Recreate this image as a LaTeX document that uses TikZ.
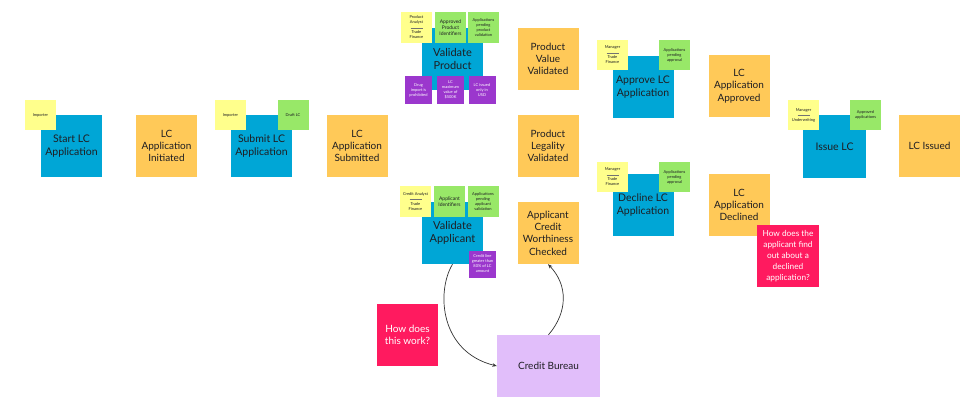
\documentclass[tikz,border=0pt]{standalone}
\usepackage{fontspec}
\setmainfont{Lato}
\usetikzlibrary{arrows.meta}
\definecolor{cblue}{RGB}{0,166,214}
\definecolor{corange}{RGB}{255,201,88}
\definecolor{cyellow}{RGB}{255,255,140}
\definecolor{cgreen}{RGB}{152,232,104}
\definecolor{cpurple}{RGB}{155,55,205}
\definecolor{cpink}{RGB}{255,26,95}
\definecolor{clav}{RGB}{225,190,250}
\definecolor{ctext}{RGB}{30,30,35}
\definecolor{cline}{RGB}{50,50,50}
\newcommand{\sepline}{{\color{black!55}\rule[1pt]{12pt}{0.2pt}}}
\tikzset{
  card/.style={inner sep=0pt, minimum width=61pt, minimum height=62pt, align=center, text=ctext},
  taskbox/.style={card, fill=cblue, font=\fontsize{10.5}{12.5}\selectfont},
  eventbox/.style={card, fill=corange, font=\fontsize{10}{12.3}\selectfont},
  qbox/.style={card, fill=cpink, text=white},
  note/.style={inner sep=0pt, minimum width=31pt, minimum height=30pt, align=center, text=ctext, font=\fontsize{4}{5}\selectfont},
  ynote/.style={note, fill=cyellow},
  gnote/.style={note, fill=cgreen},
  pnote/.style={note, fill=cpurple, text=white, minimum width=27pt, minimum height=28pt},
  flow/.style={draw=cline, line width=0.7pt, -{Stealth[length=4.5pt,width=3.5pt]}}
}
\begin{document}
\begin{tikzpicture}[x=1pt,y=-1pt]
\useasboundingbox (0,0) rectangle (980,401);
% task boxes
\node[taskbox] (start) at (71.5,146) {Start LC\\Application};
\node[taskbox] (submit) at (261.5,146) {Submit LC\\Application};
\node[taskbox, font=\fontsize{11}{13}\selectfont] (vprod) at (452.5,59) {Validate\\Product};
\node[taskbox, font=\fontsize{11}{13}\selectfont] (vapp) at (452.5,233) {Validate\\Applicant};
\node[taskbox] (approve) at (643,87) {Approve LC\\Application};
\node[taskbox] (decline) at (643,205) {Decline LC\\Application};
\node[taskbox, minimum width=63pt] (issue) at (834.5,146.5) {Issue LC};
% event boxes
\node[eventbox] (initiated) at (166.5,146) {LC\\Application\\Initiated};
\node[eventbox] (submitted) at (357,146) {LC\\Application\\Submitted};
\node[eventbox] (pvv) at (548,59) {Product\\Value\\Validated};
\node[eventbox] (plv) at (548,146) {Product\\Legality\\Validated};
\node[eventbox] (acw) at (548,233) {Applicant\\Credit\\Worthiness\\Checked};
\node[eventbox] (approved) at (739,86) {LC\\Application\\Approved};
\node[eventbox] (declined) at (739,205) {LC\\Application\\Declined};
\node[eventbox] (issued) at (929.5,146) {LC Issued};
% notes
\node[ynote] (imp1) at (40.5,115) {Importer};
\node[ynote] (imp2) at (230.5,115) {Importer};
\node[gnote] (draft) at (293,115) {Draft LC};
\node[ynote, minimum height=31pt] (pa) at (416.5,27.5) {Product\\Analyst\\\sepline\\Trade\\Finance};
\node[gnote, minimum height=31pt, font=\fontsize{5}{6}\selectfont] (api) at (450.5,27.5) {Approved\\Product\\Identifiers};
\node[gnote, minimum height=31pt] (appv) at (483.5,27.5) {Applications\\pending\\product\\validation};
\node[pnote] (drug) at (418.5,90) {Drug\\import is\\prohibited};
\node[pnote] (maxv) at (450.5,90) {LC\\maximum\\value of\\\$500K};
\node[pnote] (usd) at (482,90) {LC issued\\only in\\USD};
\node[ynote, minimum height=31pt] (ca) at (415.5,201.5) {Credit Analyst\\\sepline\\Trade\\Finance};
\node[gnote, minimum height=31pt, font=\fontsize{5}{6}\selectfont] (aid) at (449.5,201.5) {Applicant\\Identifiers};
\node[gnote, minimum height=31pt] (aav) at (483,201.5) {Applications\\pending\\applicant\\validation};
\node[pnote, minimum height=27pt] (cl) at (482.5,264) {Credit line\\greater than\\80\% of LC\\amount};
\node[ynote] (mgr1) at (612.5,55) {Manager\\\sepline\\Trade\\Finance};
\node[gnote] (pa1) at (674.5,55) {Applications\\pending\\approval};
\node[ynote] (mgr2) at (612.5,177) {Manager\\\sepline\\Trade\\Finance};
\node[gnote] (pa2) at (674.5,177) {Applications\\pending\\approval};
\node[ynote] (mgru) at (803.5,115) {Manager\\\sepline\\Underwriting};
\node[gnote] (aap) at (865.5,115) {Approved\\applications};
% questions
\node[qbox, font=\fontsize{10}{12.5}\selectfont] (q1) at (407.5,335) {How does\\this work?};
\node[qbox, minimum width=62pt, font=\fontsize{8.3}{11}\selectfont] (q2) at (788,256) {How does the\\applicant find\\out about a\\declined\\application?};
% credit bureau
\node[card, fill=clav, minimum width=103pt, font=\fontsize{10}{12}\selectfont] (cb) at (548.5,366) {Credit Bureau};
% connectors
\draw[flow] (vapp.south) .. controls (436,292) and (440,352) .. (cb.west);
\draw[flow] (cb.north) .. controls (568,312) and (568,285) .. (acw.south);
\end{tikzpicture}
\end{document}
